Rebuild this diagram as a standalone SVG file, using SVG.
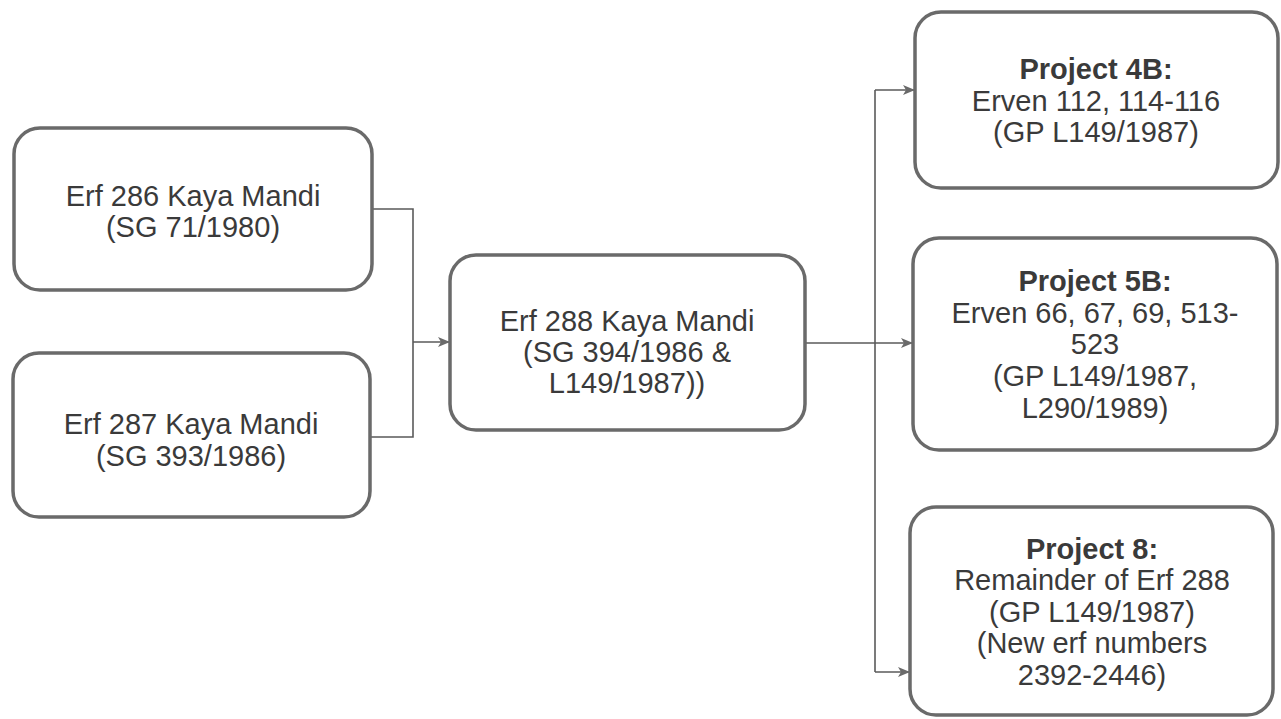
<svg xmlns="http://www.w3.org/2000/svg" width="1281" height="719" viewBox="0 0 1281 719">
<defs>
<style>
.box{fill:#fff;stroke:#6a6a6a;stroke-width:3.5}
.t{font-family:"Liberation Sans",Arial,sans-serif;font-size:29px;fill:#3a3a3a;text-anchor:middle}
.b{font-weight:bold}
.c{fill:none;stroke:#5a5a5a;stroke-width:1.6}
</style>
<marker id="ah" markerWidth="12" markerHeight="10" refX="11" refY="5" orient="auto" markerUnits="userSpaceOnUse">
<path d="M0,0 L12,5 L0,10 L3,5 Z" fill="#6a6a6a"/>
</marker>
</defs>
<rect width="1281" height="719" fill="#fff"/>
<g id="connectors">
<polyline class="c" points="372,209 413,209 413,437 370,437"/>
<line class="c" x1="413" y1="342" x2="449" y2="342" marker-end="url(#ah)"/>
<line class="c" x1="805" y1="343" x2="912" y2="343" marker-end="url(#ah)"/>
<line class="c" x1="875" y1="90" x2="875" y2="672"/>
<line class="c" x1="875" y1="90" x2="914" y2="90" marker-end="url(#ah)"/>
<line class="c" x1="875" y1="672" x2="909" y2="672" marker-end="url(#ah)"/>
</g>
<g id="erf286">
<rect class="box" x="14" y="128" width="358" height="162" rx="26"/>
<text class="t" x="193" y="206">Erf 286 Kaya Mandi</text>
<text class="t" x="193" y="237">(SG 71/1980)</text>
</g>
<g id="erf287">
<rect class="box" x="13" y="353" width="357" height="164" rx="26"/>
<text class="t" x="191" y="434">Erf 287 Kaya Mandi</text>
<text class="t" x="191" y="466">(SG 393/1986)</text>
</g>
<g id="erf288">
<rect class="box" x="450" y="255" width="355" height="175" rx="26"/>
<text class="t" x="627" y="331">Erf 288 Kaya Mandi</text>
<text class="t" x="627" y="362">(SG 394/1986 &amp;</text>
<text class="t" x="627" y="393">L149/1987))</text>
</g>
<g id="project4b">
<rect class="box" x="915" y="12" width="363" height="176" rx="26"/>
<text class="t b" x="1096" y="79">Project 4B:</text>
<text class="t" x="1096" y="111">Erven 112, 114-116</text>
<text class="t" x="1096" y="142">(GP L149/1987)</text>
</g>
<g id="project5b">
<rect class="box" x="913" y="238" width="364" height="212" rx="26"/>
<text class="t b" x="1095" y="291">Project 5B:</text>
<text class="t" x="1095" y="323">Erven 66, 67, 69, 513-</text>
<text class="t" x="1095" y="354">523</text>
<text class="t" x="1095" y="386">(GP L149/1987,</text>
<text class="t" x="1095" y="418">L290/1989)</text>
</g>
<g id="project8">
<rect class="box" x="910" y="507" width="363" height="208" rx="26"/>
<text class="t b" x="1092" y="559">Project 8:</text>
<text class="t" x="1092" y="590">Remainder of Erf 288</text>
<text class="t" x="1092" y="622">(GP L149/1987)</text>
<text class="t" x="1092" y="653">(New erf numbers</text>
<text class="t" x="1092" y="685">2392-2446)</text>
</g>
</svg>
